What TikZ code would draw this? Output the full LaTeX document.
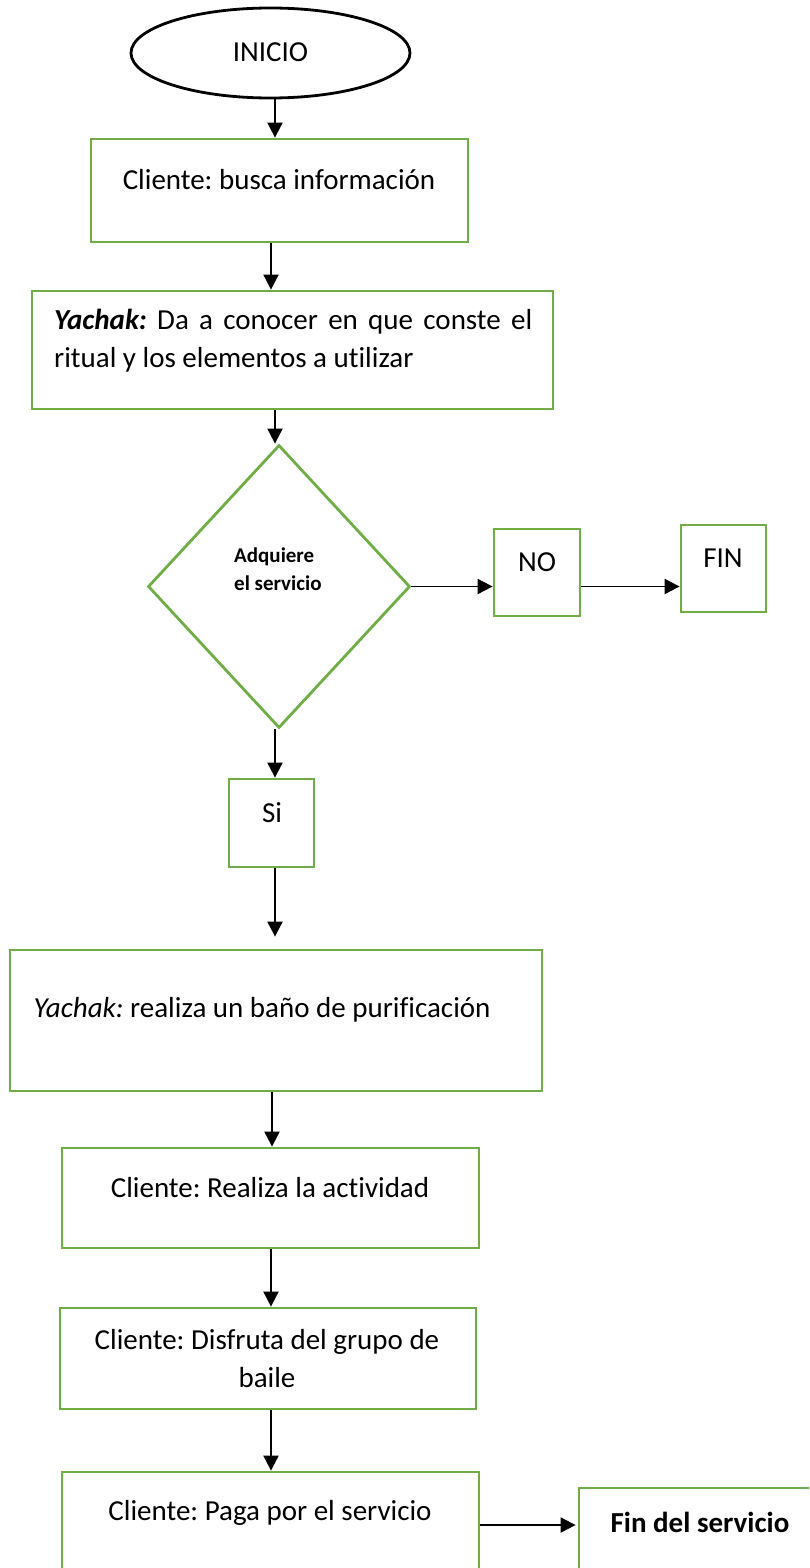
\documentclass[tikz,border=0pt]{standalone}
\usepackage{fontspec}
\setmainfont{Carlito}[Ligatures={NoCommon}]
\usetikzlibrary{shapes.geometric,arrows.meta}
\definecolor{gr}{HTML}{70AD47}
\frenchspacing
\begin{document}
\begin{tikzpicture}[x=1pt,y=-1pt,
 gbox/.style={draw=gr,line width=2.8pt,inner sep=0pt,rectangle},
 arr/.style={draw=black,line width=1.9pt,-{Triangle[length=15pt,width=15pt]}},
 txt/.style={inner sep=0pt,font=\fontsize{29}{38}\selectfont},
 btxt/.style={inner sep=0pt,font=\bfseries\fontsize{29}{38}\selectfont},
]
\useasboundingbox (0,0) rectangle (809,1568);
\clip (0,0) rectangle (809,1568);
% shapes
\node[draw=black,line width=2.8pt,ellipse,minimum width=279pt,minimum height=90pt,inner sep=0pt] (ini) at (270.5,53) {};
\node[gbox,minimum width=377pt,minimum height=103pt] (b1) at (279.5,190.5) {};
\node[gbox,minimum width=521pt,minimum height=118pt] (b2) at (292.5,350) {};
\node[draw=gr,line width=2.8pt,diamond,minimum width=262pt,minimum height=283pt,inner sep=0pt] (dia) at (279,586.5) {};
\node[gbox,minimum width=86pt,minimum height=87pt] (no) at (537,572.5) {};
\node[gbox,minimum width=85pt,minimum height=87pt] (fin) at (723.5,568.5) {};
\node[gbox,minimum width=85pt,minimum height=88pt] (si) at (271.5,823) {};
\node[gbox,minimum width=532pt,minimum height=141pt] (b3) at (276,1020.5) {};
\node[gbox,minimum width=417pt,minimum height=100pt] (b4) at (270.5,1198) {};
\node[gbox,minimum width=416pt,minimum height=101pt] (b5) at (268,1358.5) {};
\node[gbox,minimum width=417pt,minimum height=128pt] (b6) at (270.5,1536) {};
\node[gbox,minimum width=251pt,minimum height=112pt] (b7) at (704.5,1544) {};
% texts
\node[txt] (tini) at (270.5,52) {INICIO};
\node[txt] (t1) at (279,180) {Cliente: busca información};
\node[txt,anchor=west,align=left] (t2) at (54,341) {\makebox[478pt][s]{\textbf{\textit{Yachak:}} Da a conocer en que conste el}\\ritual y los elementos a utilizar};
\node[inner sep=0pt,anchor=west,align=left,font=\bfseries\fontsize{21}{28}\selectfont] (t3) at (234,569) {Adquiere\\el servicio};
\node[txt] (tno) at (537,562) {NO};
\node[txt] (tfin) at (723,558) {FIN};
\node[txt] (tsi) at (272,813) {Si};
\node[txt,anchor=west] (t4) at (33.5,1010) {\textit{Yachak:} realiza un baño de purificación};
\node[txt] (t5) at (270,1188) {Cliente: Realiza la actividad};
\node[txt,align=center] (t6) at (267,1358.5) {Cliente: Disfruta del grupo de\\baile};
\node[txt] (t7) at (270,1513) {Cliente: Paga por el servicio};
\node[btxt] (t8) at (700,1522) {Fin del servicio};
% connectors
\draw[arr] ([xshift=4.5pt]ini.south) -- ([xshift=-4.5pt]b1.north);
\draw[arr] ([xshift=-8.5pt]b1.south) -- ([xshift=-21.5pt]b2.north);
\draw[arr] ([xshift=-17.5pt]b2.south) -- ([xshift=-4pt]dia.north);
\draw[arr] (dia.east) -- (dia.east -| no.west);
\draw[arr] (no.east |- dia.east) -- (fin.west |- dia.east);
\draw[arr] ([xshift=-4pt]dia.south) -- ([xshift=3.5pt]si.north);
\draw[arr,shorten >=12pt] ([xshift=3.5pt]si.south) -- ([xshift=-1pt]b3.north);
\draw[arr] ([xshift=-4pt]b3.south) -- ([xshift=1.5pt]b4.north);
\draw[arr] ([xshift=0.5pt]b4.south) -- ([xshift=3pt]b5.north);
\draw[arr] ([xshift=3pt]b5.south) -- ([xshift=0.5pt]b6.north);
\draw[arr,shorten >=2pt] ([yshift=11pt]b6.east) -- ([yshift=19pt]b7.west);
\end{tikzpicture}
\end{document}
